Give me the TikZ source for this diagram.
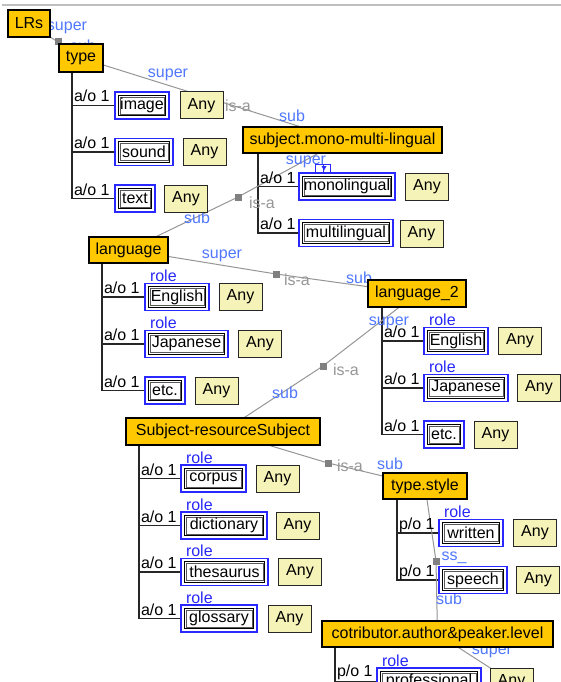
\documentclass[tikz,border=0pt]{standalone}
\usepackage{fontspec}
\setmainfont{Liberation Sans}
\usetikzlibrary{calc}
\pgfdeclarelayer{bg}
\pgfsetlayers{bg,main}
\definecolor{clsfill}{RGB}{255,200,0}
\definecolor{anyfill}{RGB}{246,243,184}
\definecolor{rolebl}{RGB}{40,40,250}
\definecolor{lblbl}{RGB}{80,120,255}
\definecolor{isagray}{RGB}{150,150,150}
\definecolor{boxblue}{RGB}{40,40,255}
\tikzset{
 base/.style={inner sep=0pt, outer sep=0pt, font=\fontsize{16}{18}\selectfont},
 cls/.style={base, draw=black, fill=clsfill, line width=1.1pt},
 anybox/.style={base, draw=black!85, fill=anyfill, line width=1pt, minimum width=43pt, minimum height=27pt},
 rolebox/.style={base, draw=boxblue, line width=1.1pt, fill=white, minimum height=27pt,
   path picture={
     \draw[black, line width=1.1pt] ([shift={(3.2pt,-3.2pt)}]path picture bounding box.north west) rectangle ([shift={(-3.2pt,3.2pt)}]path picture bounding box.south east);
     \draw[black!65, line width=0.6pt] ([shift={(4.9pt,-4.9pt)}]path picture bounding box.north west) rectangle ([shift={(-4.9pt,4.9pt)}]path picture bounding box.south east);
   }},
 tree/.style={draw=black!85, line width=1.1pt},
 isaline/.style={draw=isagray, line width=1pt},
 isamark/.style={fill=black!50, minimum size=7pt, inner sep=0pt},
 lbl/.style={base, text=lblbl},
 rolelbl/.style={base, text=rolebl, anchor=base west},
 card/.style={base, anchor=base west},
 isatxt/.style={base, text=isagray},
}
\begin{document}
\begin{tikzpicture}[x=1pt,y=-1pt]
\useasboundingbox (0,0) rectangle (561,682);
% class boxes
\node[cls, minimum width=42pt, minimum height=27pt] (LRs) at (29,23.5) {LRs};
\node[cls, minimum width=44pt, minimum height=28pt] (type) at (81,58) {type};
\node[cls, minimum width=199pt, minimum height=26pt] (submono) at (342.5,140) {subject.mono-multi-lingual};
\node[cls, minimum width=79pt, minimum height=26pt] (language) at (128.5,250) {language};
\node[cls, minimum width=98pt, minimum height=27pt] (language2) at (417,293.5) {language\_2};
\node[cls, minimum width=194pt, minimum height=27pt] (subjres) at (223,431.5) {Subject-resourceSubject};
\node[cls, minimum width=84pt, minimum height=26pt] (typestyle) at (425,486) {type.style};
\node[cls, minimum width=231pt, minimum height=26pt] (cotrib) at (437.5,634) {cotributor.author\&peaker.level};
% type children
\node[rolebox, minimum width=54pt] (image) at (142,105.5) {image};
\node[anybox] (any1) at (201.5,105.5) {Any};
\node[rolebox, minimum width=58pt] (sound) at (144,152) {sound};
\node[anybox] (any2) at (204.5,152) {Any};
\node[rolebox, minimum width=40pt] (text) at (135,198.5) {text};
\node[anybox] (any3) at (186,198.5) {Any};
% submono children
\node[rolebox, minimum width=96pt] (mono) at (347,186.5) {monolingual};
\node[anybox] (any4) at (427,187) {Any};
\node[rolebox, minimum width=94pt] (multi) at (346,233) {multilingual};
\node[anybox] (any5) at (421.5,233.5) {Any};
% language children
\node[rolebox, minimum width=64pt] (eng1) at (177,297) {English};
\node[anybox] (any6) at (240.5,297) {Any};
\node[rolebox, minimum width=83pt] (jap1) at (186.5,344) {Japanese};
\node[anybox] (any7) at (260,344) {Any};
\node[rolebox, minimum width=40pt] (etc1) at (165,390.5) {etc.};
\node[anybox] (any8) at (216.5,390.5) {Any};
% language_2 children
\node[rolebox, minimum width=64pt] (eng2) at (456,341) {English};
\node[anybox] (any9) at (520,341) {Any};
\node[rolebox, minimum width=84pt] (jap2) at (466,388) {Japanese};
\node[anybox] (any10) at (539,388) {Any};
\node[rolebox, minimum width=40pt] (etc2) at (444,434.5) {etc.};
\node[anybox] (any11) at (495.5,434.5) {Any};
% subject-resource children
\node[rolebox, minimum width=65pt] (corpus) at (213.5,478.5) {corpus};
\node[anybox] (any12) at (277.5,478.5) {Any};
\node[rolebox, minimum width=86pt] (dict) at (224,525.5) {dictionary};
\node[anybox] (any13) at (297.5,525.5) {Any};
\node[rolebox, minimum width=87pt] (thes) at (224.5,572) {thesaurus};
\node[anybox] (any14) at (300,572) {Any};
\node[rolebox, minimum width=76pt] (gloss) at (219,618.5) {glossary};
\node[anybox] (any15) at (289.5,618.5) {Any};
% type.style children
\node[rolebox, minimum width=64pt] (written) at (471,533) {written};
\node[anybox] (any16) at (535,532.5) {Any};
\node[rolebox, minimum width=68pt] (speech) at (473,580) {speech};
\node[anybox] (any17) at (538,580) {Any};
% cotributor children
\node[rolebox, minimum width=104pt] (prof) at (429,681.5) {professional};
\node[anybox] (any18) at (511.5,681.5) {Any};
% cardinality labels
\foreach \y in {105.5,152,198.5} \node[card] at (74,\y-3.5) {a/o 1};
\foreach \y in {186.5,233} \node[card] at (260,\y-3.5) {a/o 1};
\foreach \y in {297,344,390.5} \node[card] at (104,\y-3.5) {a/o 1};
\foreach \y in {341,388,434.5} \node[card] at (384,\y-3.5) {a/o 1};
\foreach \y in {478.5,525.5,572,618.5} \node[card] at (141,\y-3.5) {a/o 1};
\foreach \y in {533,580} \node[card] at (399,\y-3.5) {p/o 1};
\node[card] at (337,676) {p/o 1};
% role labels
\foreach \n in {eng1,jap1,eng2,jap2,corpus,dict,thes,gloss,written,prof}
  \node[rolelbl] at ([xshift=5pt,yshift=2pt]\n.north west) {role};
% small blue mark above monolingual
\draw[boxblue, line width=0.9pt] ([xshift=16pt]mono.north west) -- ++(0,-9) -- ++(15,0) -- ++(0,9);
\draw[boxblue, line width=0.9pt] ([xshift=24.5pt]mono.north west) -- ++(0,-9);
\fill[boxblue] (321.5,166) -- (326.5,166) -- (324,170.5) -- cycle;
% coordinates
\coordinate (typeV) at (72,72);
\coordinate (submonoV) at (258,153);
\coordinate (languageV) at (102,263);
\coordinate (language2V) at (382,307);
\coordinate (subjresV) at (139,445);
\coordinate (typestyleV) at (397,499);
\coordinate (cotribV) at (335,647);
\coordinate (m1) at (58,42);
\coordinate (m2) at (212,99);
\coordinate (m3) at (238,197);
\coordinate (m4) at (276,274);
\coordinate (m5) at (323,366);
\coordinate (m6) at (328,463);
\coordinate (m7) at (436,561);
\coordinate (offc) at (512,682);
\begin{pgfonlayer}{bg}
\fill[white] (0,0) rectangle (561,682);
\draw[black!25, line width=1.3pt] (2,5) -- (561,5);
% tree lines
\foreach \c in {image,sound,text} \draw[tree] (typeV) |- (\c.west);
\foreach \c in {mono,multi} \draw[tree] (submonoV) |- (\c.west);
\foreach \c in {eng1,jap1,etc1} \draw[tree] (languageV) |- (\c.west);
\foreach \c in {eng2,jap2,etc2} \draw[tree] (language2V) |- (\c.west);
\foreach \c in {corpus,dict,thes,gloss} \draw[tree] (subjresV) |- (\c.west);
\foreach \c in {written,speech} \draw[tree] (typestyleV) |- (\c.west);
\draw[tree] (cotribV) |- (prof.west);
% is-a links
\draw[isaline] (LRs) -- (m1) -- (type);
\draw[isaline] (type) -- (m2) -- (submono);
\draw[isaline] (language) -- (m3) -- (submono);
\draw[isaline] (language) -- (m4) -- (language2);
\draw[isaline] (language2) -- (m5) -- (subjres);
\draw[isaline] (subjres) -- (m6) -- (typestyle);
\draw[isaline] (typestyle) -- (m7) -- (cotrib);
\draw[isaline] (cotrib) -- (offc);
\foreach \m in {m1,m2,m3,m4,m5,m6,m7} \node[isamark] at (\m) {};
% is-a texts
\node[isatxt] at (238,106) {is-a};
\node[isatxt] at (262,203) {is-a};
\node[isatxt] at (297,280) {is-a};
\node[isatxt] at (346,370) {is-a};
\node[isatxt] at (350,466) {is-a};
% super / sub labels
\node[lbl] at (67,28) {super};
\node[lbl] at (83,46) {sub};
\node[lbl] at (168,75) {super};
\node[lbl] at (292,116) {sub};
\node[lbl] at (197,218) {sub};
\node[lbl] at (306,162) {super};
\node[lbl] at (222,256) {super};
\node[lbl] at (359,278) {sub};
\node[lbl] at (389,323) {super};
\node[lbl] at (285,393) {sub};
\node[lbl] at (390,464) {sub};
\node[lbl] at (454,558) {ss\_};
\node[lbl] at (449,599) {sub};
\node[lbl] at (492,652) {super};
\end{pgfonlayer}
\end{tikzpicture}
\end{document}
